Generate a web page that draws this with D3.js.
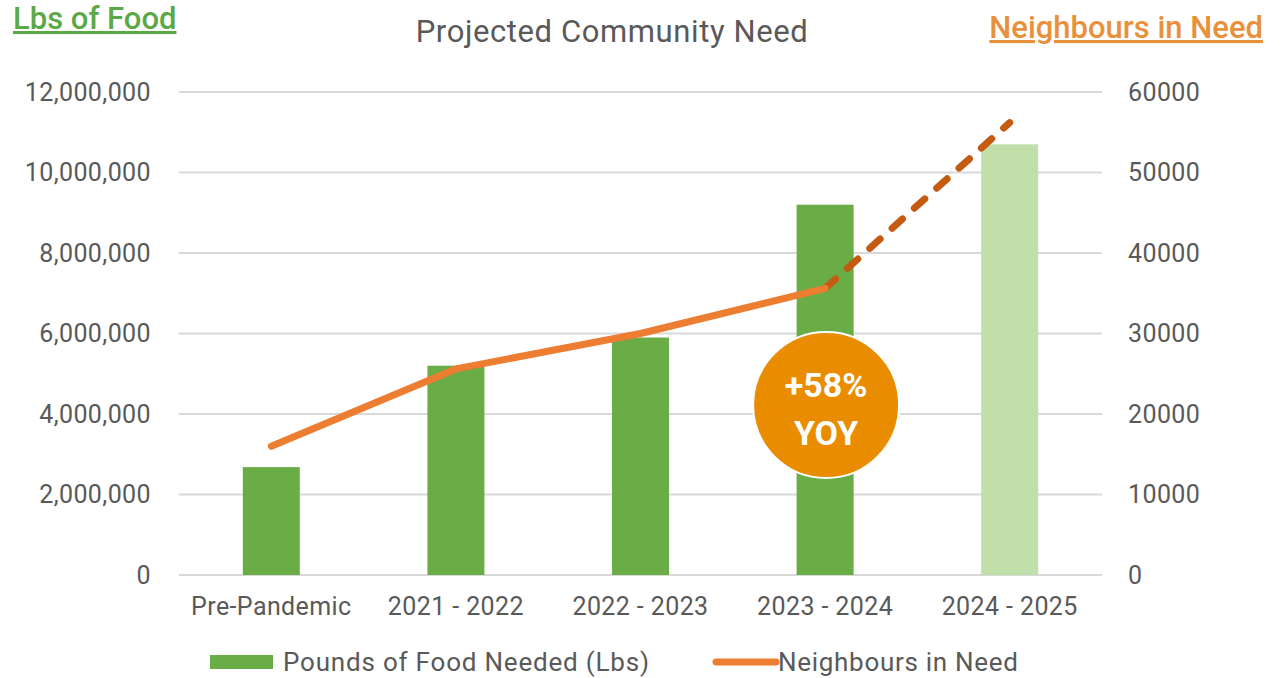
<!DOCTYPE html>
<html>
<head>
<meta charset="utf-8">
<script src="https://cdn.jsdelivr.net/npm/d3@7"></script>
<style>
  body { margin: 0; background: #fff; }
  svg text { font-family: Roboto, "Noto Sans", sans-serif; }
</style>
</head>
<body>
<svg id="chart" width="1285" height="678"></svg>
<script>
const categories = ["Pre-Pandemic", "2021 - 2022", "2022 - 2023", "2023 - 2024", "2024 - 2025"];
const poundsNeeded = [2680000, 5200000, 5900000, 9200000, 10700000];
const neighbours = [16000, 25600, 30000, 35600, 56200];
const projected = [false, false, false, false, true];
const leftTicks = [0, 2000000, 4000000, 6000000, 8000000, 10000000, 12000000];
const rightTicks = [0, 10000, 20000, 30000, 40000, 50000, 60000];

const svg = d3.select("#chart");
const margin = { left: 179, right: 1102, top: 92, bottom: 575 };
const grey = "#595959";

const x = d3.scaleBand().domain(categories).range([margin.left, margin.right]);
const yLeft = d3.scaleLinear().domain([0, 12000000]).range([margin.bottom, margin.top]);
const yRight = d3.scaleLinear().domain([0, 60000]).range([margin.bottom, margin.top]);

// gridlines
svg.append("g")
  .selectAll("line")
  .data(leftTicks)
  .join("line")
  .attr("x1", margin.left)
  .attr("x2", margin.right)
  .attr("y1", d => yLeft(d))
  .attr("y2", d => yLeft(d))
  .attr("stroke", "#d9d9d9")
  .attr("stroke-width", 2);

// left axis
const leftAxis = svg.append("g")
  .attr("transform", `translate(${margin.left - 25},0)`)
  .call(d3.axisLeft(yLeft).tickValues(leftTicks).tickFormat(d3.format(",")).tickSize(0));
leftAxis.select(".domain").remove();
leftAxis.selectAll("text").attr("fill", grey).style("font-size", "25px").style("letter-spacing", "0.4px");

// right axis
const rightAxis = svg.append("g")
  .attr("transform", `translate(${margin.right + 23},0)`)
  .call(d3.axisRight(yRight).tickValues(rightTicks).tickFormat(d => d).tickSize(0));
rightAxis.select(".domain").remove();
rightAxis.selectAll("text").attr("fill", grey).style("font-size", "25px").style("letter-spacing", "0.4px");

// x axis
const xAxis = svg.append("g")
  .attr("transform", `translate(0,${margin.bottom + 18})`)
  .call(d3.axisBottom(x).tickSize(0));
xAxis.select(".domain").remove();
xAxis.selectAll("text").attr("fill", grey).style("font-size", "25px").style("letter-spacing", "0.4px").attr("dy", "0.75em");

// bars
const barWidth = 57;
svg.append("g")
  .selectAll("rect")
  .data(categories)
  .join("rect")
  .attr("x", d => x(d) + x.bandwidth() / 2 - barWidth / 2)
  .attr("width", barWidth)
  .attr("y", (d, i) => yLeft(poundsNeeded[i]))
  .attr("height", (d, i) => yLeft(0) - yLeft(poundsNeeded[i]))
  .attr("fill", (d, i) => projected[i] ? "#c0dfab" : "#6aac45");

// line
const pts = categories.map((c, i) => ({ c, v: neighbours[i], p: projected[i] }));
const line = d3.line()
  .x(d => x(d.c) + x.bandwidth() / 2)
  .y(d => yRight(d.v));

const actual = pts.filter(d => !d.p);
const future = pts.slice(actual.length - 1);

svg.append("path")
  .attr("d", line(future))
  .attr("fill", "none")
  .attr("stroke", "#c55a11")
  .attr("stroke-width", 7)
  .attr("stroke-linecap", "round")
  .attr("stroke-dasharray", "14 16");

svg.append("path")
  .attr("d", line(actual))
  .attr("fill", "none")
  .attr("stroke", "#ed7d31")
  .attr("stroke-width", 7)
  .attr("stroke-linecap", "round")
  .attr("stroke-linejoin", "round");

// YOY badge
const badgeX = x("2023 - 2024") + x.bandwidth() / 2 + 1;
const badgeY = 405;
svg.append("circle")
  .attr("cx", badgeX)
  .attr("cy", badgeY)
  .attr("r", 73)
  .attr("fill", "#ea8c00")
  .attr("stroke", "#fff")
  .attr("stroke-width", 2);
svg.append("text")
  .attr("x", badgeX)
  .attr("y", badgeY - 8)
  .attr("text-anchor", "middle")
  .attr("fill", "#fff")
  .style("font-size", "34px")
  .style("font-weight", "bold")
  .text("+58%");
svg.append("text")
  .attr("x", badgeX)
  .attr("y", badgeY + 40)
  .attr("text-anchor", "middle")
  .attr("fill", "#fff")
  .style("font-size", "34px")
  .style("font-weight", "bold")
  .text("YOY");

// title
svg.append("text")
  .attr("x", 612)
  .attr("y", 42)
  .attr("text-anchor", "middle")
  .attr("fill", grey)
  .style("font-size", "31px")
  .style("letter-spacing", "0.6px")
  .text("Projected Community Need");

// corner labels
svg.append("text")
  .attr("x", 13)
  .attr("y", 29)
  .attr("fill", "#5ba946")
  .style("font-size", "31px")
  .style("font-weight", "500")
  .style("text-decoration", "underline")
  .text("Lbs of Food");
svg.append("text")
  .attr("x", 1263)
  .attr("y", 38)
  .attr("text-anchor", "end")
  .attr("fill", "#e8913a")
  .style("font-size", "31px")
  .style("font-weight", "500")
  .style("text-decoration", "underline")
  .text("Neighbours in Need");

// legend
const legend = svg.append("g").attr("transform", "translate(0,662)");
legend.append("rect").attr("x", 210).attr("y", -7).attr("width", 63).attr("height", 14).attr("fill", "#6aac45");
legend.append("text").attr("x", 283).attr("y", 0).attr("dy", "0.35em")
  .attr("fill", grey).style("font-size", "26px").style("letter-spacing", "0.8px").text("Pounds of Food Needed (Lbs)");
legend.append("line").attr("x1", 716).attr("x2", 776).attr("y1", 0).attr("y2", 0)
  .attr("stroke", "#ed7d31").attr("stroke-width", 7).attr("stroke-linecap", "round");
legend.append("text").attr("x", 778).attr("y", 0).attr("dy", "0.35em")
  .attr("fill", grey).style("font-size", "26px").style("letter-spacing", "0.7px").text("Neighbours in Need");
</script>
</body>
</html>
